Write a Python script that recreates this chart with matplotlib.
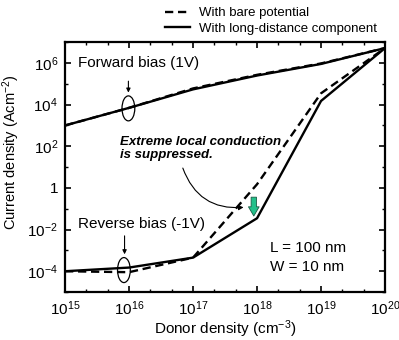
import numpy as np
import matplotlib
matplotlib.use("Agg")
import matplotlib.pyplot as plt
from matplotlib.lines import Line2D
from matplotlib.patches import Ellipse
from matplotlib.ticker import FixedLocator, FuncFormatter, NullFormatter

plt.rcParams['font.family'] = ['Liberation Sans', 'DejaVu Sans']
plt.rcParams['mathtext.fontset'] = 'custom'
plt.rcParams['mathtext.rm'] = 'Liberation Sans'
plt.rcParams['mathtext.it'] = 'Liberation Sans:italic'

# donor density (cm^-3)
donor = [1e15, 1e16, 1e17, 1e18, 1e19, 1e20]

# forward bias (1V)
fwd_bare = [1e3, 7e3, 6.0e4, 2.7e5, 9.5e5, 5.2e6]
fwd_long = [1e3, 7e3, 5.4e4, 2.5e5, 9.0e5, 5.2e6]

# reverse bias (-1V)
rev_bare = [1e-4, 9e-5, 4.5e-4, 1.5, 3.5e4, 5.2e6]
rev_long = [1e-4, 1.5e-4, 4.5e-4, 3.5e-2, 1.5e4, 5.2e6]

legend_labels = ['With bare potential', 'With long-distance component']

fig = plt.figure(figsize=(3.99, 3.40), dpi=100)
ax = fig.add_axes([0.163, 0.141, 0.802, 0.735])

lw = 1.7
dash = (0, (3.5, 2))
ax.plot(donor, fwd_bare, color='black', lw=lw, ls=dash)
ax.plot(donor, rev_bare, color='black', lw=lw, ls=dash)
ax.plot(donor, fwd_long, color='black', lw=lw)
ax.plot(donor, rev_long, color='black', lw=lw)

ax.set_xscale('log')
ax.set_yscale('log')
ax.set_xlim(1e15, 1e20)
ax.set_ylim(1e-5, 1e7)

# ticks: majors per decade on x, 1/3 decade minors; y every decade, labels every 2
ax.xaxis.set_major_locator(FixedLocator([10.0 ** k for k in range(15, 21)]))
ax.xaxis.set_minor_locator(FixedLocator([10.0 ** (k / 3) for k in range(45, 61)]))
ax.yaxis.set_major_locator(FixedLocator([10.0 ** k for k in range(-4, 7, 2)]))
ax.yaxis.set_minor_locator(FixedLocator([10.0 ** k for k in range(-5, 8)]))
ax.xaxis.set_minor_formatter(NullFormatter())
ax.yaxis.set_minor_formatter(NullFormatter())


def pow_fmt(v, pos):
    e = int(round(np.log10(v)))
    if e == 0:
        return '1'
    return r'$\mathregular{10^{%d}}$' % e


ax.xaxis.set_major_formatter(FuncFormatter(pow_fmt))
ax.yaxis.set_major_formatter(FuncFormatter(pow_fmt))
ax.tick_params(which='both', direction='in', top=True, right=True, labelsize=11)
ax.tick_params(which='major', length=4, width=1.2, pad=5)
ax.tick_params(which='minor', length=2.5, width=1.0)
for s in ax.spines.values():
    s.set_linewidth(1.6)

ax.set_xlabel(r'Donor density (cm$^{\mathregular{-3}}$)', fontsize=11)
ax.set_ylabel(r'Current density (Acm$^{\mathregular{-2}}$)', fontsize=10.5)
ax.xaxis.set_label_coords(0.5, -0.104)
ax.yaxis.set_label_coords(-0.135, 0.56)

# text labels
ax.text(1.6e15, 1e6, 'Forward bias (1V)', fontsize=11, va='center', ha='left')
ax.text(1.6e15, 1.9e-2, 'Reverse bias (-1V)', fontsize=11, va='center', ha='left')
ax.text(1.6e18, 1.3e-3, 'L = 100 nm', fontsize=11, va='center', ha='left')
ax.text(1.6e18, 1.6e-4, 'W = 10 nm', fontsize=11, va='center', ha='left')
ax.text(7.2e15, 80, 'Extreme local conduction\nis suppressed.', fontsize=9.5,
        fontweight='bold', fontstyle='italic', va='center', ha='left', linespacing=1.15)

# ellipses marking the curve groups (drawn in axes fraction)
ax.add_patch(Ellipse((0.198, 0.735), 0.04, 0.10, transform=ax.transAxes,
                     fill=False, lw=0.9, color='black'))
ax.add_patch(Ellipse((0.184, 0.088), 0.04, 0.10, transform=ax.transAxes,
                     fill=False, lw=0.9, color='black'))
ax.annotate('', xy=(0.198, 0.787), xytext=(0.198, 0.855), xycoords='axes fraction',
            arrowprops=dict(arrowstyle='-|>', color='black', lw=0.8, mutation_scale=6))
ax.annotate('', xy=(0.186, 0.14), xytext=(0.186, 0.236), xycoords='axes fraction',
            arrowprops=dict(arrowstyle='-|>', color='black', lw=0.8, mutation_scale=6))

# curved arrow from the note
ax.annotate('', xy=(6.8e17, 0.12), xytext=(6.7e16, 12),
            arrowprops=dict(arrowstyle='-|>', color='black', lw=0.8, mutation_scale=7,
                            connectionstyle='arc3,rad=0.4'))

# green arrow
ax.annotate('', xy=(8.9e17, 0.045), xytext=(8.9e17, 0.36),
            arrowprops=dict(arrowstyle='simple,head_width=0.7,head_length=0.6,tail_width=0.35',
                            facecolor='#22c08a', edgecolor='#1a5a44', lw=0.6,
                            mutation_scale=11, shrinkA=0, shrinkB=0))

handles = [Line2D([], [], color='black', lw=lw, ls=dash),
           Line2D([], [], color='black', lw=lw)]
fig.legend(handles, legend_labels, loc='upper left', bbox_to_anchor=(165 / 399, 1 - 7 / 340),
           frameon=False, fontsize=9.5, handlelength=1.9, handletextpad=0.7,
           labelspacing=0.25, borderpad=0, borderaxespad=0)

fig.savefig('out.png', dpi=100)
